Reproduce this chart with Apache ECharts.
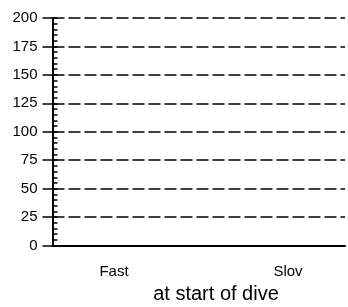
<!DOCTYPE html>
<html>
<head>
<meta charset="utf-8">
<script src="https://cdn.jsdelivr.net/npm/echarts@6/dist/echarts.min.js"></script>
<style>
  html, body { margin: 0; padding: 0; background: #fff; }
  #echart { width: 348px; height: 307px; }
</style>
</head>
<body>
<div id="echart"></div>
<script>
// 数据
var categories = ['Fast', 'Slov'];
var values = [0, 0];
var yTicks = [0, 25, 50, 75, 100, 125, 150, 175, 200];

var font = 'Liberation Sans, Arial, sans-serif';
var dash = { color: '#000', width: 1.6, type: [12, 4] };

var myChart = echarts.init(document.getElementById('echart'));
myChart.setOption({
    animation: false,
    title: {
        text: 'at start of dive',
        left: 216,
        top: 284,
        textAlign: 'center',
        padding: 0,
        textStyle: { fontFamily: font, fontSize: 20, fontWeight: 'normal', color: '#000' }
    },
    grid: [
        { left: 52.5, right: 3, top: 18, bottom: 61.5, outerBoundsMode: 'none' },
        // 只用来放x轴的标签
        { left: 27, right: -27, top: 18, bottom: 61.5, outerBoundsMode: 'none' }
    ],
    xAxis: [{
        gridIndex: 0,
        type: 'category',
        data: categories,
        offset: 2,
        axisLine: { lineStyle: { color: '#000', width: 2 } },
        axisTick: { show: false },
        axisLabel: { show: false },
        splitLine: { show: false }
    }, {
        gridIndex: 1,
        type: 'category',
        data: categories,
        axisLine: { show: false },
        axisTick: { show: false },
        axisLabel: { margin: 19, fontFamily: font, fontSize: 15, color: '#000' },
        splitLine: { show: false }
    }],
    yAxis: [{
        gridIndex: 0,
        type: 'value',
        min: yTicks[0],
        max: yTicks[yTicks.length - 1],
        interval: 25,
        axisLine: { show: true, lineStyle: { color: '#000', width: 2 } },
        axisTick: { show: true, inside: false, length: 10, lineStyle: { color: '#000', width: 1.5 } },
        axisLabel: { margin: 15, fontFamily: font, fontSize: 15, color: '#000' },
        splitLine: { show: true, showMinLine: true, showMaxLine: true, lineStyle: dash }
    }, {
        // 内侧的刻度和小刻度
        gridIndex: 0,
        type: 'value',
        position: 'left',
        min: yTicks[0],
        max: yTicks[yTicks.length - 1],
        interval: 25,
        axisLine: { show: false },
        axisTick: { show: true, inside: true, length: 5, lineStyle: { color: '#000', width: 1.5 } },
        minorTick: { show: true, splitNumber: 5, length: 5, lineStyle: { color: '#000', width: 1.5 } },
        axisLabel: { show: false },
        splitLine: { show: false }
    }, {
        gridIndex: 1,
        type: 'value',
        min: 0,
        max: 200,
        show: false
    }],
    series: [{
        type: 'bar',
        xAxisIndex: 1,
        yAxisIndex: 2,
        data: values,
        itemStyle: { color: '#000' }
    }, {
        // 0 处的虚线
        type: 'line',
        xAxisIndex: 0,
        yAxisIndex: 0,
        data: values,
        symbol: 'none',
        lineStyle: { width: 0 },
        markLine: {
            silent: true,
            symbol: 'none',
            label: { show: false },
            lineStyle: dash,
            data: [{ yAxis: 0 }]
        }
    }]
});
</script>
</body>
</html>
